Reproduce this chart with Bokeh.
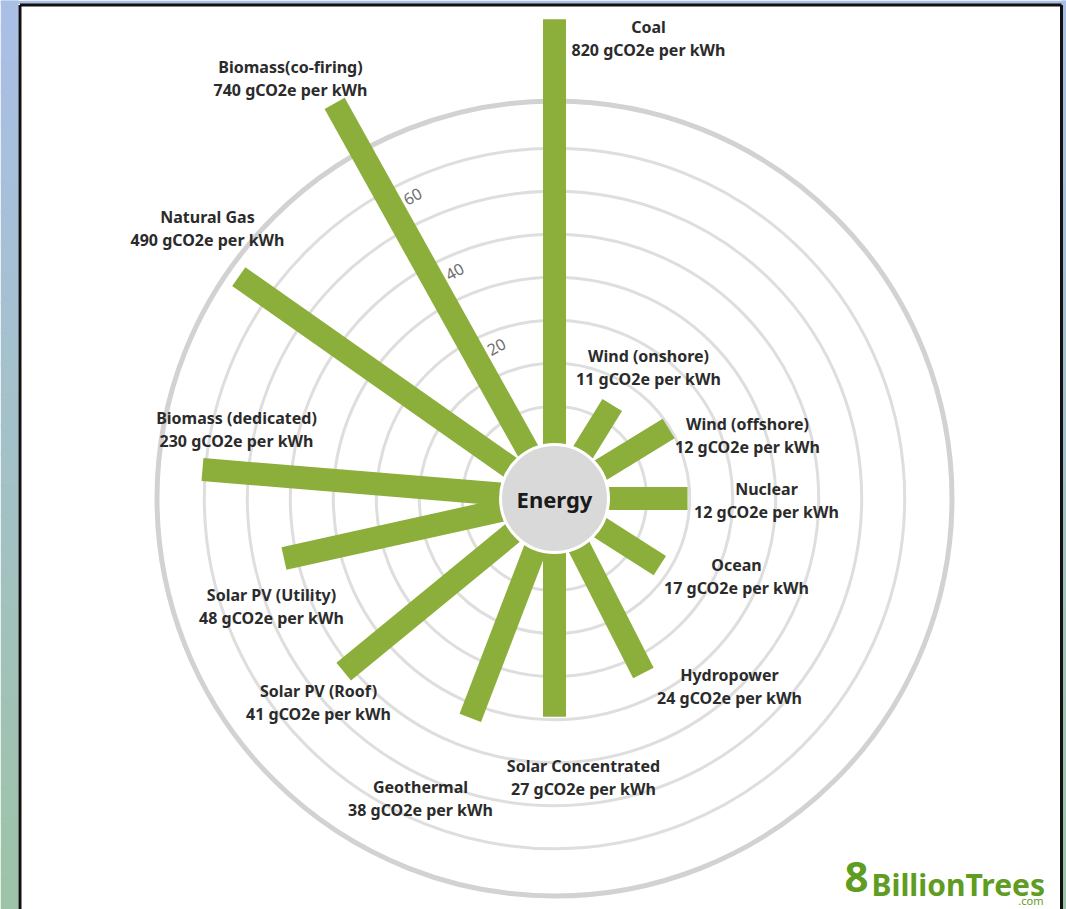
import math
from bokeh.plotting import figure
from bokeh.models import Range1d, ColumnDataSource
from bokeh.core.properties import value
from bokeh.embed import file_html
from bokeh.resources import INLINE

# ---------------- data ----------------
sources = ["Coal", "Biomass(co-firing)", "Natural Gas", "Biomass (dedicated)",
           "Solar PV (Utility)", "Solar PV (Roof)", "Geothermal", "Solar Concentrated",
           "Hydropower", "Ocean", "Nuclear", "Wind (offshore)", "Wind (onshore)"]
emissions = [820, 740, 490, 230, 48, 41, 38, 27, 24, 17, 12, 12, 11]
# bar length on the chart's radial scale (ticks 20 / 40 / 60)
bar_scale = [94.0, 87.7, 72.3, 64.7, 47.0, 46.0, 37.2, 33.3, 28.1, 11.6, 13.5, 13.7, 8.1]
bar_angle_deg = [90, 119.1, 144.9, 175.3, 192.5, 219.4, 249, 270, 297, 327.5, 0, 31.5, 58.3]
ring_ticks = [20, 40, 60]
grid_rings = [4, 14, 24, 34, 44, 54, 64]
outer_ring = 75
center_label = "Energy"

# ---------------- layout / style ----------------
R0, K = 75.0, 4.3            # radial scale: px = R0 + K * value
CX, CY = 554, 498            # chart centre in page pixels
W, H = 1066, 909
GREEN = "#8cae3b"
TEXT = "#2b2b2b"
FONT = "Noto Sans"
# label block centres (dx, dy) relative to the chart centre, px
label_xy = [(94, 460), (-264, 420), (-347, 270), (-318, 69), (-283, -108),
            (-236, -204), (-134, -300), (29, -279), (175, -188), (182, -78),
            (212, -2), (193, 63), (94, 131)]


def rad(v):
    return R0 + K * v


def px(xp, yp):
    return xp - CX, CY - yp


p = figure(width=W, height=H, output_backend="svg", toolbar_location=None,
           x_range=Range1d(-CX, W - CX), y_range=Range1d(CY - H, CY),
           x_axis_location=None, y_axis_location=None, min_border=0,
           background_fill_color="white", border_fill_color="white")
p.grid.visible = False
p.outline_line_color = None

# page backdrop (blue -> green) and panel border
top_c, bot_c = (169, 191, 230), (157, 195, 168)
n = 30
for i in range(n):
    t = i / (n - 1)
    c = "#%02x%02x%02x" % tuple(int(round(top_c[j] + (bot_c[j] - top_c[j]) * t)) for j in range(3))
    ya = CY - H * i / n
    yb = CY - H * (i + 1) / n
    p.quad(left=[-CX, W - 5 - CX], right=[18 - CX, W - CX], top=ya + 0.5, bottom=yb - 0.5,
           fill_color=c, line_color=None)
p.quad(left=-CX, right=W - CX, top=CY, bottom=CY - 3.5, fill_color="#a9bfe6", line_color=None)
xl, _ = px(19.5, 0)
xr, _ = px(1061, 0)
_, yt = px(0, 4.5)
p.segment(x0=[xl, xl, xr], y0=[CY - H, yt, CY - H], x1=[xl, xr, xr], y1=[yt, yt, yt],
          line_color="#111111", line_width=3)

# grid rings
p.circle(x=[0] * len(grid_rings), y=[0] * len(grid_rings),
         radius=[rad(v) for v in grid_rings], fill_color=None,
         line_color="#dedede", line_width=3)
p.circle(x=[0], y=[0], radius=[rad(outer_ring)], fill_color=None,
         line_color="#d2d2d2", line_width=5)

# bars
ang = [math.radians(a) for a in bar_angle_deg]
bars = ColumnDataSource(dict(
    x1=[rad(v) * math.cos(a) for v, a in zip(bar_scale, ang)],
    y1=[rad(v) * math.sin(a) for v, a in zip(bar_scale, ang)]))
p.segment(x0=0, y0=0, x1="x1", y1="y1", source=bars, line_color=GREEN,
          line_width=23, line_cap="butt")

# radial tick labels along the co-firing bar
ta = math.radians(bar_angle_deg[1])
off = 23
p.text(x=[rad(v) * math.cos(ta) + off * math.sin(ta) for v in ring_ticks],
       y=[rad(v) * math.sin(ta) - off * math.cos(ta) for v in ring_ticks],
       text=[str(v) for v in ring_ticks], angle=ta - math.pi / 2,
       text_font=value(FONT), text_font_size="16px", text_color="#6e6e6e",
       text_align="center", text_baseline="middle")

# centre circle
p.circle(x=[0], y=[0], radius=54, fill_color="#d9d9d9", line_color="white",
         line_width=3)
p.text(x=[0], y=[0], text=[center_label], text_font=value(FONT),
       text_font_size="22px", text_font_style="bold", text_color="#1a1a1a",
       text_align="center", text_baseline="middle")

# category labels
lx = [d[0] for d in label_xy]
ly = [d[1] for d in label_xy]
p.text(x=lx, y=[v + 11.5 for v in ly], text=sources, text_font=value(FONT),
       text_font_size="16px", text_font_style="bold", text_color=TEXT,
       text_align="center", text_baseline="middle")
p.text(x=lx, y=[v - 11.5 for v in ly], text=[f"{e} gCO2e per kWh" for e in emissions],
       text_font=value(FONT), text_font_size="16px", text_font_style="bold",
       text_color=TEXT, text_align="center", text_baseline="middle")

# logo
LOGO = "#5e9c22"
x8, y8 = px(844, 876)
p.text(x=[x8], y=[y8], text=["8"], text_font=value(FONT),
       text_font_size="42px", text_font_style="bold", text_color=LOGO,
       text_align="left", text_baseline="middle")
xb, yb_ = px(871, 904)
p.text(x=[xb], y=[yb_], text=["BillionTrees"], text_font=value(FONT),
       text_font_size="30px", text_font_style="bold", text_color=LOGO,
       text_align="left", text_baseline="bottom")
xc, yc = px(1043, 907)
p.text(x=[xc], y=[yc], text=[".com"], text_font=value(FONT),
       text_font_size="11px", text_color=LOGO,
       text_align="right", text_baseline="bottom")

open("out.html", "w").write(file_html(p, INLINE))
